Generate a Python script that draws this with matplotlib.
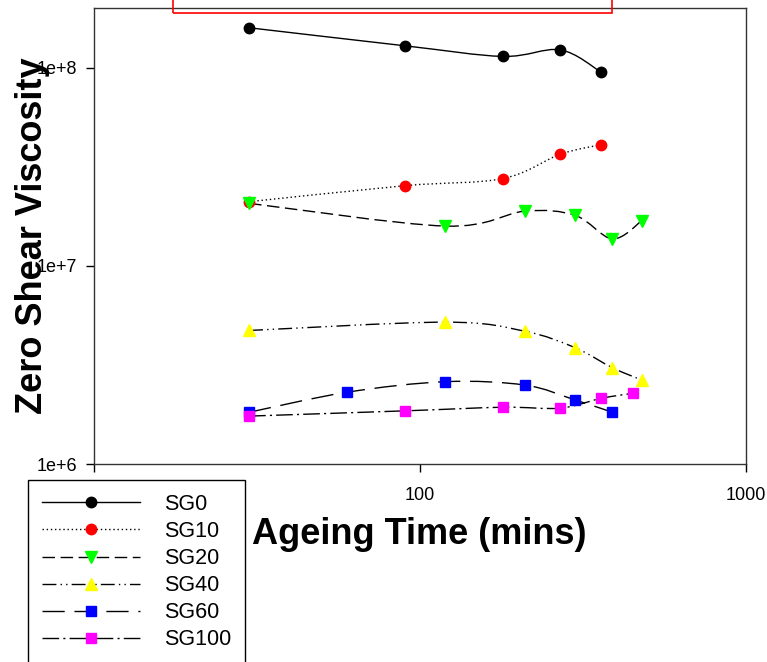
import numpy as np
import matplotlib
matplotlib.use("Agg")
import matplotlib.pyplot as plt
from matplotlib.path import Path
from matplotlib.patches import PathPatch, Rectangle
from matplotlib.lines import Line2D

plt.rcParams['font.family'] = ['Liberation Sans', 'DejaVu Sans']

# ageing time (mins) and zero shear viscosity for each sample
t_sg0 = [30, 90, 180, 270, 360]
v_sg0 = [1.59e8, 1.29e8, 1.14e8, 1.23e8, 9.5e7]

t_sg10 = [30, 90, 180, 270, 360]
v_sg10 = [2.11e7, 2.54e7, 2.76e7, 3.66e7, 4.09e7]

t_sg20 = [30, 120, 210, 300, 390, 480]
v_sg20 = [2.07e7, 1.59e7, 1.89e7, 1.80e7, 1.37e7, 1.69e7]

t_sg40 = [30, 120, 210, 300, 390, 480]
v_sg40 = [4.73e6, 5.21e6, 4.69e6, 3.87e6, 3.07e6, 2.66e6]

t_sg60 = [30, 60, 120, 210, 300, 390]
v_sg60 = [1.83e6, 2.31e6, 2.61e6, 2.51e6, 2.11e6, 1.83e6]

t_sg100 = [30, 90, 180, 270, 360, 450]
v_sg100 = [1.75e6, 1.86e6, 1.94e6, 1.92e6, 2.15e6, 2.28e6]

labels = ['SG0', 'SG10', 'SG20', 'SG40', 'SG60', 'SG100']
times = [t_sg0, t_sg10, t_sg20, t_sg40, t_sg60, t_sg100]
visc = [v_sg0, v_sg10, v_sg20, v_sg40, v_sg60, v_sg100]

colors = ['black', '#ff0000', '#00ff00', '#ffff00', '#0000ff', '#ff00ff']
markers = ['o', 'o', 'v', '^', 's', 's']
msizes = [7.5, 7.5, 8.5, 8.5, 6.8, 6.8]
styles = ['-', (0, (1, 2)), (0, (9, 4)), (0, (10, 3, 1, 3, 1, 3)),
          (0, (16, 7)), (0, (12, 3, 1.5, 3))]


def smooth_path(x, y):
    # catmull-rom style bezier through the points, built in log-log space
    pts = np.column_stack([np.log10(x), np.log10(y)])
    ext = np.vstack([pts[0], pts, pts[-1]])
    verts = [pts[0]]
    codes = [Path.MOVETO]
    for i in range(len(pts) - 1):
        p0, p1, p2, p3 = ext[i], ext[i + 1], ext[i + 2], ext[i + 3]
        verts += [p1 + (p2 - p0) / 6.0, p2 - (p3 - p1) / 6.0, p2]
        codes += [Path.CURVE4] * 3
    return Path(10 ** np.array(verts), codes)


fig = plt.figure(figsize=(7.67, 6.62), dpi=100)
ax = fig.add_axes([93.5 / 767, 1 - 464.3 / 662, 652.2 / 767, 456.3 / 662])
ax.set_xscale('log')
ax.set_yscale('log')
ax.set_xlim(10, 1000)
ax.set_ylim(1e6, 2e8)

handles = []
for t, v, c, m, ms, ls in zip(times, visc, colors, markers, msizes, styles):
    ax.add_patch(PathPatch(smooth_path(t, v), fill=False, ec='black',
                           lw=1.0, ls=ls, zorder=2))
    ax.plot(t, v, ls='none', marker=m, ms=ms, mfc=c, mec=c, zorder=3)
    handles.append(Line2D([], [], color='black', lw=1.0, ls=ls,
                          marker=m, ms=ms, mfc=c, mec=c))

ax.set_xticks([10, 100, 1000])
ax.set_xticklabels(['', '100', '1000'])
ax.set_yticks([1e6, 1e7, 1e8])
ax.set_yticklabels(['1e+6', '1e+7', '1e+8'])
ax.minorticks_off()
ax.tick_params(direction='out', length=6, width=1, labelsize=13)
ax.tick_params(axis='x', pad=10)
ax.tick_params(axis='y', pad=6)
for s in ax.spines.values():
    s.set_linewidth(1.0)
    s.set_color('#333333')

ax.set_xlabel('Ageing Time (mins)', fontsize=26, fontweight='bold', va='center')
ax.xaxis.set_label_coords(0.5, -(534 - 464.3) / 456.3)
ax.set_ylabel('Zero Shear Viscosity', fontsize=26, fontweight='bold', va='center')
ax.yaxis.set_label_coords(-(93.5 - 33) / 652.2, 0.5)

leg = fig.legend(handles, labels, loc='upper left',
                 bbox_to_anchor=(28 / 767, 1 - 480 / 662),
                 bbox_transform=fig.transFigure, borderaxespad=0,
                 fancybox=False, edgecolor='black', framealpha=1,
                 fontsize=15.5, handlelength=4.55, handletextpad=1.1,
                 labelspacing=0.28, borderpad=0.65, numpoints=1)
leg.get_frame().set_linewidth(1.0)

# red box running off the top edge
fig.add_artist(Rectangle((172.5 / 767, 1 - 13 / 662), 439 / 767, 0.1,
                         transform=fig.transFigure, fill=False,
                         ec='#ff0000', lw=1.2, clip_on=False))

fig.savefig('out.png', dpi=100)
